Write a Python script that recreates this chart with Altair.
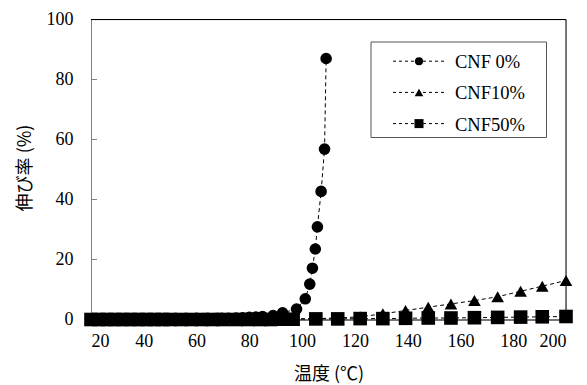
import altair as alt
import pandas as pd

series_names = ["CNF 0%", "CNF10%", "CNF50%"]
shapes = ["circle", "triangle-up", "square"]

cnf0_temp = [20, 22.5, 25, 27.5, 30, 32.5, 35, 37.5, 40, 42.5, 45, 47.5, 50, 52.5, 55, 57.5,
             60, 62.5, 64.5, 67, 69.5, 72, 75, 77.5, 80, 82.5, 85, 89, 92.6, 97.9,
             101.2, 102.9, 103.9, 105.0, 105.8, 107.2, 108.5, 109.1]
cnf0_val = [0, 0, 0, 0, 0, 0, 0, 0, 0.1, 0.1, 0.1, 0.1, 0.2, 0.2, 0.2, 0.2,
            0.3, 0.3, 0.3, 0.3, 0.4, 0.4, 0.5, 0.6, 0.7, 0.8, 1.0, 1.3, 2.2, 3.5,
            6.9, 11.8, 17.1, 23.5, 30.9, 42.7, 56.8, 87.0]

cnf10_temp = [20, 23, 26, 29, 32, 35, 38, 41, 44, 47, 50, 54, 58, 62, 66, 70, 75, 79.5,
              84, 88, 92.5, 96.6, 105.2, 113.5, 122.0, 130.6, 139.2, 147.8, 156.4,
              165.3, 174.1, 182.8, 191.0, 200.0]
cnf10_val = [0, 0, 0, 0, 0, 0, 0, 0, 0, 0, 0, 0, 0, 0, 0.1, 0.1, 0.1, 0.1,
             0.1, 0.1, 0.2, 0.2, 0.3, 0.5, 0.9, 1.9, 3.0, 4.1, 5.2,
             6.3, 7.6, 9.4, 11.1, 13.0]

cnf50_temp = [20, 23, 26, 29, 32, 35, 38, 41, 44, 47, 50, 54, 58, 62, 66, 70, 75, 79.5,
              84, 88, 92.5, 96.6, 105.2, 113.5, 122.0, 130.6, 139.2, 147.8, 156.4,
              165.3, 174.1, 182.8, 191.0, 200.0]
cnf50_val = [0, 0, 0, 0, 0, 0, 0, 0, 0, 0, 0, 0, 0, 0, 0, 0, 0, 0,
             0, 0, 0.1, 0.1, 0.2, 0.2, 0.3, 0.3, 0.4, 0.5, 0.5,
             0.6, 0.7, 0.8, 0.9, 1.0]

x_ticks = [20, 40, 60, 80, 100, 120, 140, 160, 180, 200]
y_ticks = [0, 20, 40, 60, 80, 100]
inner_ticks = [20, 40, 60, 80]

rows = []
for name, ts, vs in [(series_names[0], cnf0_temp, cnf0_val),
                     (series_names[1], cnf10_temp, cnf10_val),
                     (series_names[2], cnf50_temp, cnf50_val)]:
    for i, (t, v) in enumerate(zip(ts, vs)):
        rows.append({"series": name, "temp": t, "val": v, "idx": i})
df = pd.DataFrame(rows)

W, H = 475, 300
SERIF = "'Liberation Serif', 'Times New Roman', serif"
CJK = "'Noto Sans CJK JP', sans-serif"

xenc = alt.X("temp:Q", scale=alt.Scale(domain=[20, 200], nice=False, zero=False),
             axis=alt.Axis(values=x_ticks, title="温度 (℃)", ticks=False, grid=False,
                           labelFont=SERIF, labelFontSize=18, labelColor="black",
                           labelPadding=13, domainColor="black", domainWidth=1,
                           titleFont=CJK, titleFontSize=18, titleFontWeight="normal",
                           titleColor="black", titleY=55, titleBaseline="middle"))
yaxis = alt.Axis(values=y_ticks, title="伸び率 (%)", ticks=False, grid=False,
                 labelFont=SERIF, labelFontSize=18, labelColor="black",
                 labelPadding=18, domainColor="#808080", domainWidth=1,
                 titleFont=CJK, titleFontSize=18, titleFontWeight="normal",
                 titleColor="black", titleX=-66, titleY=148,
                 titleAlign="center", titleBaseline="middle")
yscale = alt.Scale(domain=[0, 100], nice=False)
yenc = alt.Y("val:Q", scale=yscale, axis=yaxis)

shape_scale = alt.Scale(domain=series_names, range=shapes)
size_scale = alt.Scale(domain=series_names, range=[135, 185, 169])

lines = alt.Chart(df).mark_line(color="black", strokeWidth=1, strokeDash=[4, 3]).encode(
    x=xenc, y=yenc, detail="series:N", order="idx:Q")

points = alt.Chart(df).mark_point(filled=True, color="black", opacity=1).encode(
    x=xenc, y=yenc,
    shape=alt.Shape("series:N", scale=shape_scale, legend=None),
    size=alt.Size("series:N", scale=size_scale, legend=None),
    order=alt.Order("series:N", sort="ascending"))

tick_df = pd.DataFrame({"val": inner_ticks})
ticks = alt.Chart(tick_df).mark_rule(color="#808080", strokeWidth=1).encode(
    y=alt.Y("val:Q", scale=yscale, axis=yaxis),
    x=alt.value(0), x2=alt.value(6))

# frame: top and right edges in black
frame_df = pd.DataFrame({"series": series_names[:1]})
top_edge = alt.Chart(frame_df).mark_rule(color="black", strokeWidth=1).encode(
    x=alt.value(0), x2=alt.value(W), y=alt.value(0))
right_edge = alt.Chart(frame_df).mark_rule(color="black", strokeWidth=1).encode(
    x=alt.value(W), y=alt.value(0), y2=alt.value(H))

# manual legend
leg_df = pd.DataFrame({"series": series_names})
legend_layers = []
box = alt.Chart(leg_df.head(1)).mark_rect(fill="white", stroke="#555555", strokeWidth=1).encode(
    x=alt.value(280), x2=alt.value(455.5), y=alt.value(22.5), y2=alt.value(118))
legend_layers.append(box)
for i, name in enumerate(series_names):
    yy = 41.7 + 31.2 * i
    sub = leg_df[leg_df["series"] == name]
    legend_layers.append(alt.Chart(sub).mark_rule(color="black", strokeWidth=1, strokeDash=[3, 3]).encode(
        x=alt.value(302), x2=alt.value(356), y=alt.value(yy)))
    legend_layers.append(alt.Chart(sub).mark_point(filled=True, color="black", opacity=1,
                                                   shape=shapes[i], size=[66, 75, 81][i]).encode(
        x=alt.value(328), y=alt.value(yy)))
    legend_layers.append(alt.Chart(sub).mark_text(font=SERIF, fontSize=18.5, color="black",
                                                  align="left", baseline="middle").encode(
        x=alt.value(364), y=alt.value(yy + 1), text="series:N"))

chart = alt.layer(top_edge, right_edge, lines, points, ticks, *legend_layers).properties(
    width=W, height=H,
    padding={"left": 83, "top": 11.5, "right": 12, "bottom": 65},
    autosize=alt.AutoSizeParams(type="none"),
).configure_view(stroke=None).configure_axis(
    labelFont=SERIF, titleFont=CJK
).configure(background="white")

chart.save("out.html", embed_options={"renderer": "svg", "actions": False})
